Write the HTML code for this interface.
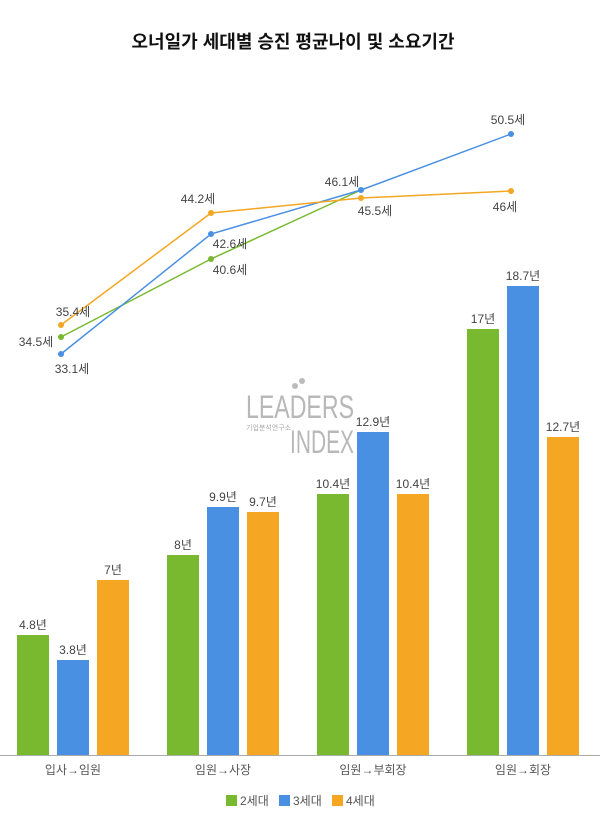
<!DOCTYPE html>
<html><head><meta charset="utf-8"><style>
body{margin:0;background:#fff;width:600px;height:835px;overflow:hidden}
svg text{font-family:"Liberation Sans","Noto Sans CJK KR",sans-serif}
</style></head><body>
<svg width="600" height="835" xmlns="http://www.w3.org/2000/svg">
<text x="293" y="48" font-size="18" font-weight="bold" text-anchor="middle" fill="#111">오너일가 세대별 승진 평균나이 및 소요기간</text>
<!-- logo -->
<g>
<text x="246" y="418" font-size="32" fill="#b8b8b8" textLength="108" lengthAdjust="spacingAndGlyphs">LEADERS</text>
<text x="290" y="453" font-size="32" fill="#b8b8b8" textLength="64" lengthAdjust="spacingAndGlyphs">INDEX</text>
<text x="246" y="430" font-size="7" fill="#aaa">기업분석연구소</text>
<circle cx="295" cy="386" r="3" fill="#bbb"/><circle cx="302" cy="381" r="3" fill="#bbb"/>
</g>
<g fill="#444" font-size="12" text-anchor="middle">
<rect x="17" y="635" width="32" height="120" fill="#79b930"/><text x="33" y="629">4.8년</text>
<rect x="57" y="660" width="32" height="95" fill="#4a90e2"/><text x="73" y="654">3.8년</text>
<rect x="97" y="580" width="32" height="175" fill="#f5a623"/><text x="113" y="574">7년</text>
<rect x="167" y="555" width="32" height="200" fill="#79b930"/><text x="183" y="549">8년</text>
<rect x="207" y="507" width="32" height="248" fill="#4a90e2"/><text x="223" y="501">9.9년</text>
<rect x="247" y="512" width="32" height="243" fill="#f5a623"/><text x="263" y="506">9.7년</text>
<rect x="317" y="494" width="32" height="261" fill="#79b930"/><text x="333" y="488">10.4년</text>
<rect x="357" y="432" width="32" height="323" fill="#4a90e2"/><text x="373" y="426">12.9년</text>
<rect x="397" y="494" width="32" height="261" fill="#f5a623"/><text x="413" y="488">10.4년</text>
<rect x="467" y="329" width="32" height="426" fill="#79b930"/><text x="483" y="323">17년</text>
<rect x="507" y="286" width="32" height="469" fill="#4a90e2"/><text x="523" y="280">18.7년</text>
<rect x="547" y="437" width="32" height="318" fill="#f5a623"/><text x="563" y="431">12.7년</text>
</g>
<line x1="0" y1="755.5" x2="600" y2="755.5" stroke="#aaa" stroke-width="1"/>
<g fill="#555" font-size="12" text-anchor="middle">
<text x="73" y="774">입사→임원</text><text x="223" y="774">임원→사장</text>
<text x="373" y="774">임원→부회장</text><text x="523" y="774">임원→회장</text>
</g>
<polyline points="61,337 211,259 361,190" fill="none" stroke="#79b930" stroke-width="1.5"/>
<polyline points="61,354 211,234 361,190 511,134" fill="none" stroke="#4a90e2" stroke-width="1.5"/>
<polyline points="61,325 211,213 361,198 511,191" fill="none" stroke="#f5a623" stroke-width="1.5"/>
<g fill="#79b930"><circle cx="61" cy="337" r="3"/><circle cx="211" cy="259" r="3"/></g>
<g fill="#4a90e2"><circle cx="61" cy="354" r="3"/><circle cx="211" cy="234" r="3"/><circle cx="361" cy="190" r="3"/><circle cx="511" cy="134" r="3"/></g>
<g fill="#f5a623"><circle cx="61" cy="325" r="3"/><circle cx="211" cy="213" r="3"/><circle cx="361" cy="198" r="3"/><circle cx="511" cy="191" r="3"/></g>
<g fill="#444" font-size="12" text-anchor="middle">
<text x="73" y="316">35.4세</text><text x="36" y="346">34.5세</text><text x="72" y="373">33.1세</text>
<text x="198" y="203">44.2세</text><text x="230" y="248">42.6세</text><text x="230" y="274">40.6세</text>
<text x="342" y="186">46.1세</text><text x="375" y="215">45.5세</text>
<text x="508" y="124">50.5세</text><text x="505" y="211">46세</text>
</g>
<g font-size="12" fill="#555">
<rect x="226" y="795" width="11" height="11" fill="#79b930"/><text x="240" y="805">2세대</text>
<rect x="279" y="795" width="11" height="11" fill="#4a90e2"/><text x="293" y="805">3세대</text>
<rect x="332" y="795" width="11" height="11" fill="#f5a623"/><text x="346" y="805">4세대</text>
</g>
</svg>
</body></html>
